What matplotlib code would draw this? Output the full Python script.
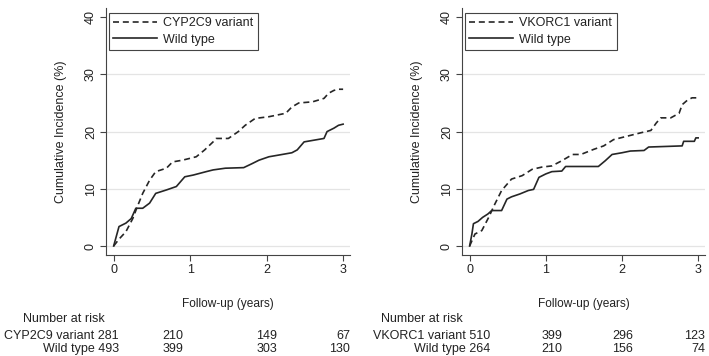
import matplotlib
matplotlib.use("Agg")
import matplotlib.pyplot as plt

plt.rcParams['font.family'] = ['Liberation Sans', 'DejaVu Sans']

# ---------------- data ----------------
cyp_var_t = [0, 0.07, 0.16, 0.25, 0.31, 0.38, 0.47, 0.55, 0.69, 0.77, 0.90, 1.08, 1.19, 1.30,
             1.34, 1.50, 1.63, 1.72, 1.85, 2.03, 2.25, 2.33, 2.42, 2.60, 2.75, 2.81, 2.88,
             2.94, 3.0]
cyp_var_y = [0, 1.2, 2.5, 4.8, 6.9, 9.2, 11.5, 13.0, 13.6, 14.7, 15.0, 15.6, 16.8, 18.2,
             18.8, 18.8, 20.0, 21.1, 22.3, 22.6, 23.2, 24.3, 25.0, 25.2, 25.8, 26.7, 27.2,
             27.4, 27.4]
cyp_wt_t = [0, 0.07, 0.16, 0.23, 0.29, 0.38, 0.47, 0.55, 0.69, 0.82, 0.93, 1.04, 1.21, 1.30,
            1.46, 1.70, 1.81, 1.90, 2.03, 2.16, 2.33, 2.40, 2.49, 2.62, 2.75, 2.79, 2.88,
            2.94, 3.0]
cyp_wt_y = [0, 3.4, 4.0, 4.8, 6.6, 6.6, 7.5, 9.2, 9.8, 10.4, 12.1, 12.4, 13.0, 13.3,
            13.6, 13.7, 14.4, 15.0, 15.6, 15.9, 16.3, 16.8, 18.2, 18.5, 18.8, 20.0, 20.6,
            21.1, 21.3]

vk_var_t = [0, 0.07, 0.16, 0.25, 0.33, 0.42, 0.55, 0.69, 0.82, 0.95, 1.08, 1.21, 1.35, 1.46,
            1.63, 1.76, 1.89, 2.07, 2.25, 2.38, 2.45, 2.51, 2.64, 2.75, 2.79, 2.86, 2.92, 3.0]
vk_var_y = [0, 2.1, 2.7, 5.0, 7.3, 9.7, 11.7, 12.3, 13.4, 13.8, 14.0, 14.9, 16.0, 16.0,
            16.9, 17.5, 18.6, 19.2, 19.8, 20.2, 21.5, 22.4, 22.4, 23.2, 24.7, 25.5, 25.9, 25.9]
vk_wt_t = [0, 0.03, 0.05, 0.11, 0.17, 0.24, 0.29, 0.42, 0.49, 0.55, 0.66, 0.77, 0.84, 0.91,
           1.00, 1.08, 1.21, 1.26, 1.69, 1.78, 1.87, 2.00, 2.11, 2.29, 2.35, 2.79, 2.81,
           2.95, 2.97, 3.0]
vk_wt_y = [0, 2.1, 3.9, 4.3, 5.0, 5.6, 6.2, 6.2, 8.2, 8.6, 9.1, 9.7, 9.9, 12.0,
           12.6, 13.0, 13.1, 13.9, 13.9, 14.9, 16.0, 16.3, 16.6, 16.7, 17.3, 17.5, 18.3,
           18.3, 18.9, 18.9]

variant_labels = ['CYP2C9 variant', 'VKORC1 variant']
wild_label = 'Wild type'
risk_cyp_var = [281, 210, 149, 67]
risk_cyp_wt = [493, 399, 303, 130]
risk_vk_var = [510, 399, 296, 123]
risk_vk_wt = [264, 210, 156, 74]
x_ticks = [0, 1, 2, 3]
y_ticks = [0, 10, 20, 30, 40]

# ---------------- figure ----------------
W, H = 709, 356
fig = plt.figure(figsize=(W / 100, H / 100), dpi=100)

def fx(px):
    return px / W

def fy(py):
    return 1 - py / H

line_col = '#262626'
dash = (0, (3.6, 2.3))
FS = 9

panels = [
    dict(left=106, right=350, var=(cyp_var_t, cyp_var_y), wt=(cyp_wt_t, cyp_wt_y),
         lab=variant_labels[0], risk=(risk_cyp_var, risk_cyp_wt),
         cols=[119, 183, 277, 350], nar=23),
    dict(left=462, right=705, var=(vk_var_t, vk_var_y), wt=(vk_wt_t, vk_wt_y),
         lab=variant_labels[1], risk=(risk_vk_var, risk_vk_wt),
         cols=[490, 562, 633, 705], nar=381),
]

top_px, bot_px = 8, 255
for p in panels:
    wpx = p['right'] - p['left']
    ax = fig.add_axes([fx(p['left']), fy(bot_px), wpx / W, (bot_px - top_px) / H])
    ax.set_xlim(-0.1, 3.09)
    ax.set_ylim(-1.57, 41.6)
    for yv in y_ticks[:-1]:
        ax.axhline(yv, color='#e4e4e4', lw=0.9, zorder=0)
    ax.plot(p['var'][0], p['var'][1], color=line_col, lw=1.2,
            linestyle=dash, label=p['lab'])
    ax.plot(p['wt'][0], p['wt'][1], color=line_col, lw=1.2,
            label=wild_label)
    for s in ['top', 'right']:
        ax.spines[s].set_visible(False)
    for s in ['left', 'bottom']:
        ax.spines[s].set_color('#444444')
        ax.spines[s].set_linewidth(0.8)
    ax.set_xticks(x_ticks)
    ax.set_yticks(y_ticks)
    ax.tick_params(axis='both', length=4, width=0.8, color='#444444',
                   labelsize=FS, pad=2.5, labelcolor='#222222')
    for t in ax.get_yticklabels():
        t.set_rotation(90)
        t.set_va('center')
    ax.set_ylabel('Cumulative Incidence (%)', fontsize=FS, color='#222222')
    ax.yaxis.set_label_coords(-39 / wpx, 0.5)
    ax.set_xlabel('Follow-up (years)', fontsize=8.6, color='#222222')
    ax.xaxis.set_label_coords(0.5, -(298 - bot_px) / (bot_px - top_px))
    leg = ax.legend(loc='upper left', bbox_to_anchor=(0.012, 0.98), borderaxespad=0,
                    fontsize=FS, handlelength=3.5, handletextpad=0.5,
                    labelspacing=0.35, borderpad=0.35, fancybox=False,
                    framealpha=1, edgecolor='#444444')
    leg.get_frame().set_linewidth(0.8)
    for t in leg.get_texts():
        t.set_color('#222222')

    # number at risk table
    fig.text(fx(p['nar']), fy(319), 'Number at risk', fontsize=FS, ha='left',
             va='center', color='#222222')
    var_r, wt_r = p['risk']
    for i, c in enumerate(p['cols']):
        s1 = f"{p['lab']} {var_r[i]}" if i == 0 else str(var_r[i])
        s2 = f"{wild_label} {wt_r[i]}" if i == 0 else str(wt_r[i])
        fig.text(fx(c), fy(336), s1, fontsize=FS, ha='right', va='center',
                 color='#222222')
        fig.text(fx(c), fy(349), s2, fontsize=FS, ha='right', va='center',
                 color='#222222')

fig.savefig('out.png', dpi=100)
